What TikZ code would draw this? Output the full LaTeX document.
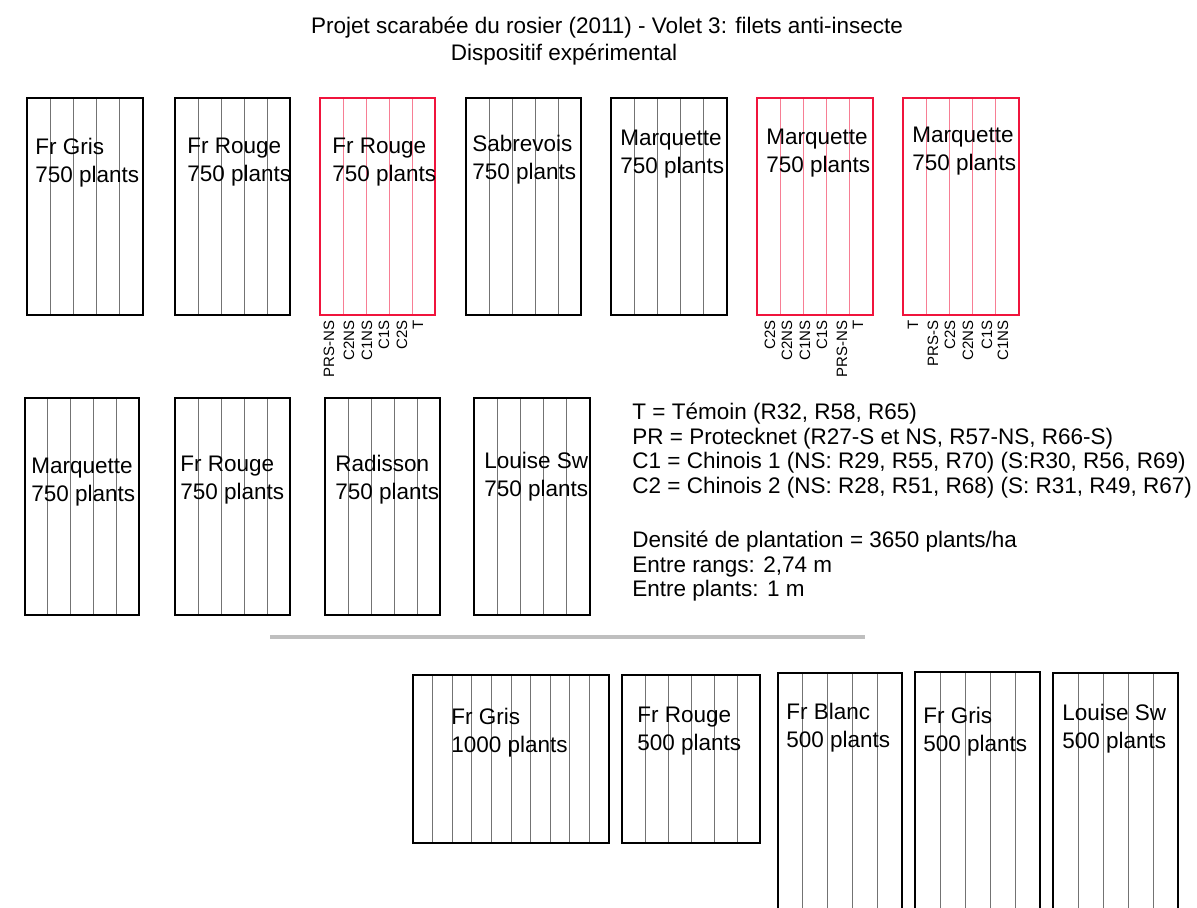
\documentclass[tikz,border=0pt]{standalone}
\usepackage{fontspec}
\setmainfont{Liberation Sans}
\definecolor{rougefilet}{RGB}{240,20,60}
\tikzset{
  parcelle/.style={draw=black, line width=1pt},
  filet/.style={draw=rougefilet, line width=1pt},
  rang/.style={draw=black!55, line width=0.4pt},
  rangfilet/.style={draw=rougefilet!55, line width=0.4pt},
  cultivar/.style={anchor=west, align=left, inner sep=0pt, font=\fontsize{11.25}{14}\selectfont},
  traitement/.style={rotate=90, anchor=east, inner sep=0pt, font=\fontsize{7.5}{9}\selectfont},
  legende/.style={anchor=north west, align=left, inner sep=0pt, font=\fontsize{11.25}{12.2}\selectfont},
  titre/.style={inner sep=0pt, font=\fontsize{11.25}{14}\selectfont},
  ombre/.style={draw=black!25, line width=1.6pt}
}
\begin{document}
\begin{tikzpicture}[x=0.5pt, y=-0.5pt]
      \useasboundingbox (0,0) rectangle (1197,907);
      \clip (0,0) rectangle (1197,907);
      % titre
      \node[titre] (titre) at (607,28) {Projet scarabée du rosier (2011) - Volet 3: filets anti-insecte};
      \node[titre] (soustitre) at (564,55) {Dispositif expérimental};
      % parcelles sans filet
      \foreach \xa/\ya/\xb/\yb/\n in {
          27/98/143/315/5, 175/98/290/315/5, 466/98/581/315/5, 611/98/727/315/5,
          25/398/139/615/5, 175/398/290/615/5, 325/398/440/615/5, 474/398/590/615/5,
          413/675/609/843/10, 622/675/760/843/6, 778/673/902/930/5,
          915/672/1040/930/5, 1053/673/1178/930/5} {
        \pgfmathsetmacro\pas{(\xb-\xa)/\n}
        \pgfmathtruncatemacro\m{\n-1}
        \foreach \i in {1,...,\m}
          \draw[rang] (\xa+\i*\pas,\ya) -- (\xa+\i*\pas,\yb);
        \draw[parcelle] (\xa,\ya) rectangle (\xb,\yb);
      }
      % parcelles avec filets
      \foreach \xa/\ya/\xb/\yb/\n in {
          320/98/435/315/5, 757/98/873/315/5, 903/98/1019/315/5} {
        \pgfmathsetmacro\pas{(\xb-\xa)/\n}
        \pgfmathtruncatemacro\m{\n-1}
        \foreach \i in {1,...,\m}
          \draw[rangfilet] (\xa+\i*\pas,\ya) -- (\xa+\i*\pas,\yb);
        \draw[filet] (\xa,\ya) rectangle (\xb,\yb);
      }
      % cultivars
      \node[cultivar] (a1) at (35,163) {Fr Gris\\750 plants};
      \node[cultivar] (a2) at (187,162) {Fr Rouge\\750 plants};
      \node[cultivar] (a3) at (332,162) {Fr Rouge\\750 plants};
      \node[cultivar] (a4) at (472,160) {Sabrevois\\750 plants};
      \node[cultivar] (a5) at (620,154) {Marquette\\750 plants};
      \node[cultivar] (a6) at (766,153) {Marquette\\750 plants};
      \node[cultivar] (a7) at (912,151) {Marquette\\750 plants};
      \node[cultivar] (b1) at (31,482) {Marquette\\750 plants};
      \node[cultivar] (b2) at (180,480) {Fr Rouge\\750 plants};
      \node[cultivar] (b3) at (335,480) {Radisson\\750 plants};
      \node[cultivar] (b4) at (484,477) {Louise Sw\\750 plants};
      \node[cultivar] (c1) at (451,733) {Fr Gris\\1000 plants};
      \node[cultivar] (c2) at (637,731) {Fr Rouge\\500 plants};
      \node[cultivar] (c3) at (786,728) {Fr Blanc\\500 plants};
      \node[cultivar] (c4) at (923,732) {Fr Gris\\500 plants};
      \node[cultivar] (c5) at (1062,729) {Louise Sw\\500 plants};
      % traitements sous les filets
      \foreach \x/\t [count=\k] in {329/PRS-NS, 349/C2NS, 367/C1NS, 384/C1S, 402/C2S, 418/T}
        \node[traitement] (ta\k) at (\x,320) {\t};
      \foreach \x/\t [count=\k] in {770/C2S, 787/C2NS, 805/C1NS, 822/C1S, 842/PRS-NS, 858/T}
        \node[traitement] (tb\k) at (\x,320) {\t};
      \foreach \x/\t [count=\k] in {913/T, 933/PRS-S, 950/C2S, 968/C2NS, 987/C1S, 1003/C1NS}
        \node[traitement] (tc\k) at (\x,320) {\t};
      % legende
      \node[legende] (cles) at (632,403) {T = Témoin (R32, R58, R65)\\
        PR = Protecknet (R27-S et NS, R57-NS, R66-S)\\
        C1 = Chinois 1 (NS: R29, R55, R70) (S:R30, R56, R69)\\
        C2 = Chinois 2 (NS: R28, R51, R68) (S: R31, R49, R67)};
      \node[legende] (densite) at (632,531) {Densité de plantation = 3650 plants/ha\\
        Entre rangs: 2,74 m\\
        Entre plants: 1 m};
      \draw[ombre] (270,637) -- (865,637);
    \end{tikzpicture}
\end{document}
